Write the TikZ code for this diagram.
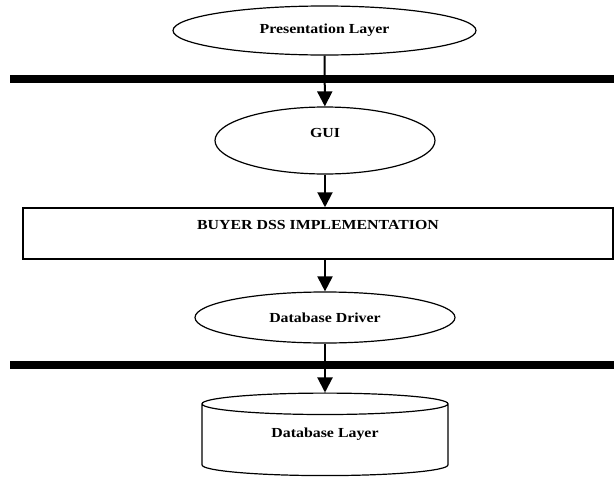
\documentclass[tikz,border=0pt]{standalone}
\usepackage{fontspec}
\setmainfont[FakeStretch=1.15]{Liberation Serif}
\usetikzlibrary{arrows.meta,shapes.geometric}
\begin{document}
\begin{tikzpicture}[x=1pt, y=-1pt,
  every node/.style={font=\fontsize{13.8}{16}\selectfont\bfseries},
  layer/.style={draw, ellipse, line width=1.2pt, inner sep=0pt},
  bar/.style={line width=8pt},
  flow/.style={line width=2pt, -{Triangle[width=15pt,length=15pt]}}]

\useasboundingbox (0,0) rectangle (614,477);

\draw[bar](10,78.5) -- (614,78.5);
\draw[bar](10,365) -- (614,365);

\node[layer, minimum width=303pt, minimum height=49pt] (pres) at (324.5,30.5) {Presentation Layer};
\node[layer, minimum width=220pt, minimum height=67pt, text height=9.5pt, text depth=15.4pt] (gui) at (325,140.5) {GUI};
\node[draw, rectangle, line width=1.5pt, inner sep=0pt, minimum width=590pt, text height=21.55pt, text depth=29.45pt] (impl) at (318,233.5) {BUYER DSS IMPLEMENTATION};
\node[layer, minimum width=260pt, minimum height=51pt] (driver) at (325,317.5) {Database Driver};
\node[draw, cylinder, shape border rotate=90, aspect=0.2, line width=1.2pt, inner sep=0pt, minimum width=246pt, minimum height=82.5pt, text height=10pt, text depth=14.9pt] (dblayer) at (325,440) {Database Layer};

\draw[flow](pres) -- (gui);
\draw[flow](gui) -- (gui |- impl.north);
\draw[flow](impl.south -| driver) -- (driver);
\draw[flow](driver) -- (dblayer);

\end{tikzpicture}
\end{document}
